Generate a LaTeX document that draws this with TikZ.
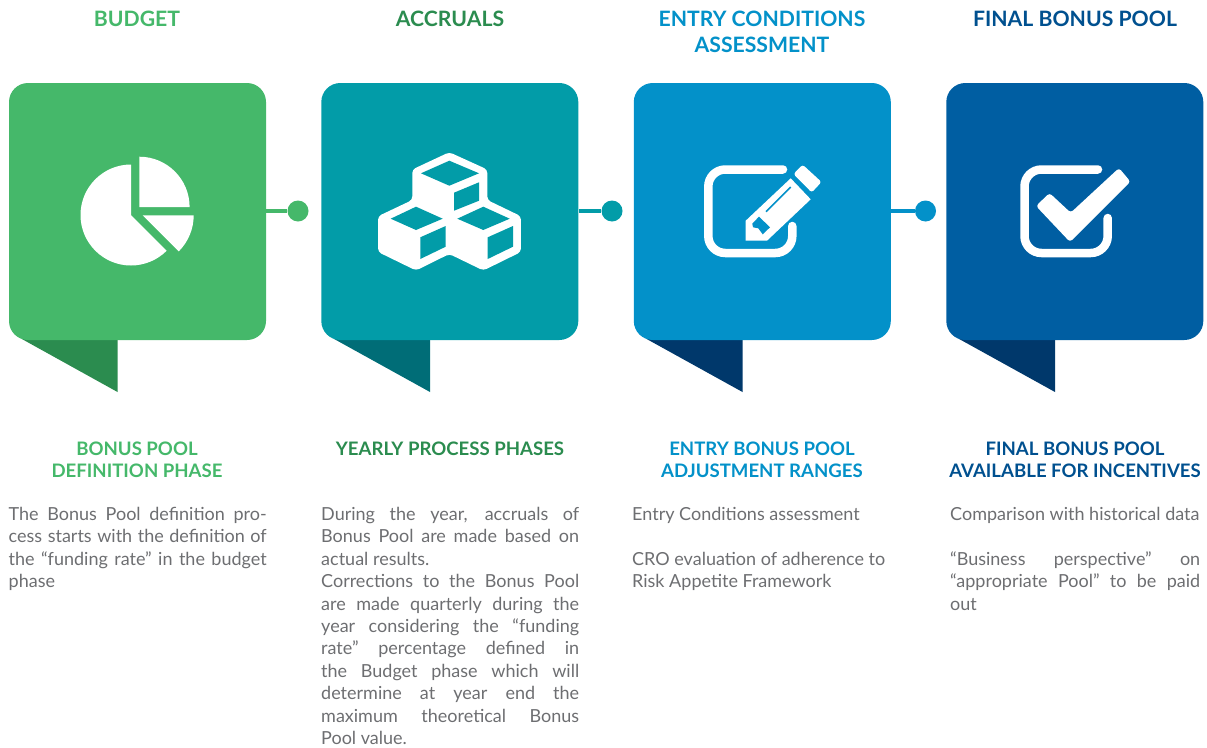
\documentclass[tikz,border=0pt]{standalone}
\usepackage{fontspec}
\setmainfont{Lato}
\definecolor{cA}{HTML}{45B86A}\definecolor{tA}{HTML}{2B8C4F}
\definecolor{cB}{HTML}{029CA8}\definecolor{tB}{HTML}{006D77}
\definecolor{cC}{HTML}{0391C9}\definecolor{tC}{HTML}{00386B}
\definecolor{cD}{HTML}{005EA2}\definecolor{tD}{HTML}{00508F}
\definecolor{bodyc}{HTML}{6D6E71}
\tikzset{
 card/.style={minimum width=257pt,minimum height=257pt,rounded corners=19pt,inner sep=0pt,fill=#1},
 dotn/.style={circle,minimum size=21pt,inner sep=0pt,fill=#1},
 link/.style={line width=4.5pt,draw=#1},
 ttl/.style={font=\fontsize{21.2}{26}\selectfont\bfseries,align=center,text=#1,anchor=north,inner sep=0pt},
 sub/.style={font=\fontsize{18.6}{22}\selectfont\bfseries,align=center,text=#1,anchor=north,inner sep=0pt},
 body/.style={font=\fontsize{18}{22.4}\selectfont\sloppy,align=justify,text=bodyc,text width=#1,anchor=north west,inner sep=0pt},
 ico/.style={fill=white,draw=none},
 outl/.style={draw=white,line width=8.5pt,line cap=round,rounded corners=17pt}
}
\begin{document}
\begin{tikzpicture}[x=1pt,y=1pt,yscale=-1]
\useasboundingbox (0,0) rectangle (1207,747);
% tails
\fill[tA] (21.5,338.8) -- (117.5,392) -- (117.5,335) -- cycle;
\fill[tB] (333.8,338.8) -- (430,392) -- (430,335) -- cycle;
\fill[tC] (646.3,338.8) -- (742.5,392) -- (742.5,335) -- cycle;
\fill[tC] (958.8,338.8) -- (1055,392) -- (1055,335) -- cycle;
% cards
\node[card=cA] (b1) at (137.5,211.5) {};
\node[card=cB] (b2) at (449.8,211.5) {};
\node[card=cC] (b3) at (762.3,211.5) {};
\node[card=cD] (b4) at (1074.8,211.5) {};
% connectors
\node[dotn=cA] (d1) at (298,211) {};
\node[dotn=cB] (d2) at (612,211) {};
\node[dotn=cC] (d3) at (925.5,211) {};
\draw[link=cA] (b1.east |- d1) -- (d1);
\draw[link=cB] (b2.east |- d2) -- (d2);
\draw[link=cC] (b3.east |- d3) -- (d3);
% pie
\fill[ico] (131,215) -- (131,164.5) arc[start angle=-90,end angle=-315,radius=50.5] -- cycle;
\fill[ico] (139.3,207) -- (139.3,156.7) arc[start angle=-90,end angle=0,radius=50.3] -- cycle;
\fill[ico] (142.7,215.3) -- (193.7,215.3) arc[start angle=0,end angle=45,radius=51] -- cycle;
% cubes
\fill[ico,rounded corners=3.5pt] (449.3,152.2) -- (487.3,169.5) -- (487.3,200) -- (520.9,216.2) -- (520.9,252) -- (483.3,270.5) -- (449.3,254) -- (416,270.5) -- (378.1,252) -- (378.1,216.2) -- (412.3,200) -- (412.3,169.5) -- cycle;
\fill[cB] (421,173.3) -- (449.3,160.7) -- (479,173.3) -- (449.3,185.7) -- cycle;
\fill[cB] (454,192.7) -- (479,182.3) -- (479,200.7) -- (454,210.7) -- cycle;
\fill[cB] (390.7,218.7) -- (416,206.7) -- (442.7,218.7) -- (416,230) -- cycle;
\fill[cB] (420.3,237.3) -- (445.7,226) -- (445.7,246.7) -- (420.3,259) -- cycle;
\fill[cB] (457.3,218.7) -- (483.3,206.7) -- (509.7,218.7) -- (483.3,230) -- cycle;
\fill[cB] (487.7,237.3) -- (513,226) -- (513,246.7) -- (487.7,259) -- cycle;
% pencil icon
\draw[outl] (783,169.5) -- (708.3,169.5) -- (708.3,253) -- (792.3,253) -- (792.3,226);
\fill[ico,rounded corners=2.5pt] (793.5,174) -- (802.7,164.7) -- (821.5,182) -- (811.7,192.5) -- cycle;
\fill[ico] (790.7,178.3) -- (810.7,199.3) -- (767,240.7) -- (745.7,240.7) -- (745.7,220.7) -- cycle;
\draw[cC,line width=1.7pt] (790.7,187) -- (766,211.7);
\fill[cC] (759,216.7) -- (770,227.3) -- (762.7,234.3) -- (758.3,228.3) -- (753,227.3) -- (752.3,223.5) -- cycle;
% check icon
\draw[outl] (1098,169.5) -- (1024.5,169.5) -- (1024.5,253) -- (1107.7,253) -- (1107.7,218);
\fill[ico,rounded corners=3pt] (1049.5,193) -- (1070.7,212.7) -- (1119,168) -- (1130.5,181.7) -- (1070,242) -- (1036,206) -- cycle;
% titles
\node[ttl=cA] (t1) at (137,10.5) {BUDGET};
\node[ttl=tA] (t2) at (450,10.5) {ACCRUALS};
\node[ttl=cC] (t3) at (762,10.5) {ENTRY CONDITIONS\\ASSESSMENT};
\node[ttl=tD] (t4) at (1075,10.5) {FINAL BONUS POOL};
% subtitles
\node[sub=cA] (s1) at (137,442) {BONUS POOL\\DEFINITION PHASE};
\node[sub=tA] (s2) at (450,442) {YEARLY PROCESS PHASES};
\node[sub=cC] (s3) at (762,442) {ENTRY BONUS POOL\\ADJUSTMENT RANGES};
\node[sub=tD] (s4) at (1075,442) {FINAL BONUS POOL\\AVAILABLE FOR INCENTIVES};
% body
\node[body=258pt] (p1) at (8.5,507) {The Bonus Pool definition pro-\linebreak cess starts with the definition of\linebreak the “funding rate” in the budget\linebreak phase};
\node[body=258pt] (p2) at (321,507) {During the year, accruals of\linebreak Bonus Pool are made based on\linebreak actual results.\newline Corrections to the Bonus Pool\linebreak are made quarterly during the\linebreak year considering the “funding\linebreak rate” percentage defined in\linebreak the Budget phase which will\linebreak determine at year end the\linebreak maximum theoretical Bonus\linebreak Pool value.};
\node[body=258pt] (p3) at (632,507) {Entry Conditions assessment\newline\null\newline CRO evaluation of adherence to\newline Risk Appetite Framework};
\node[body=250pt] (p4) at (950,507) {Comparison with historical data\newline\null\newline “Business perspective” on\linebreak “appropriate Pool” to be paid\linebreak out};
\end{tikzpicture}
\end{document}
